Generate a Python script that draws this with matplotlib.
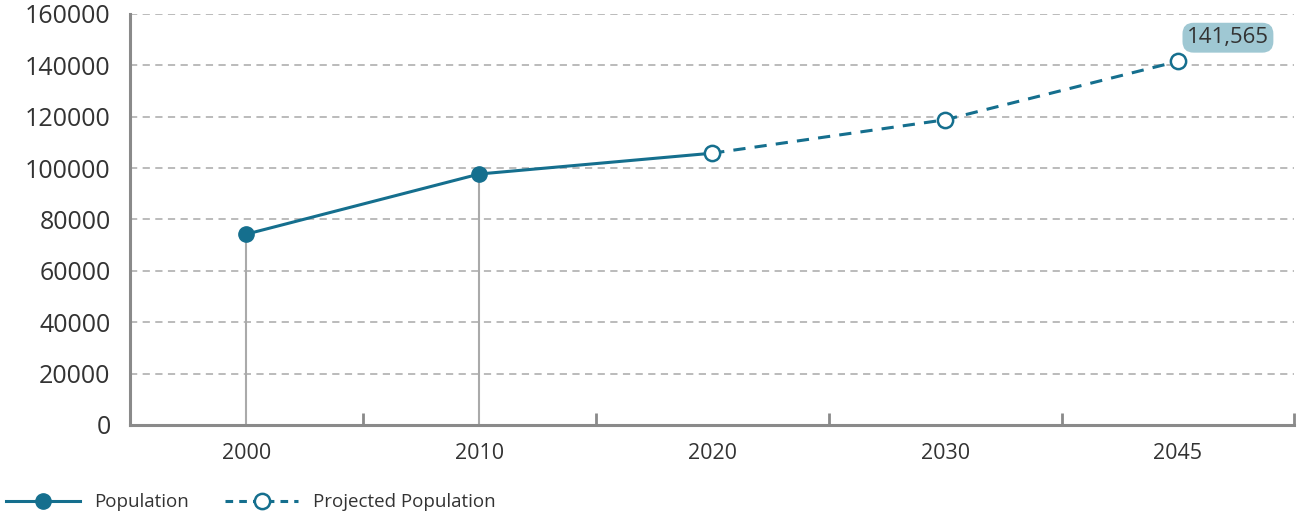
import matplotlib.pyplot as plt
import numpy as np
from matplotlib.lines import Line2D

plt.rcParams['font.family'] = ['Open Sans', 'DejaVu Sans']

# data
years = ['2000', '2010', '2020', '2030', '2045']
population = [74300, 97700, 105800]        # actual line (ends at 2020 estimate)
projected = [105800, 118800, 141565]       # projected line 2020-2045
label_value = 141565

line_col = '#156f8e'
grid_col = '#b5b5b5'
axis_col = '#8a8a8a'
text_col = '#333333'

fig = plt.figure(figsize=(12.98, 5.17), dpi=100)
ax = fig.add_axes([0.1002, 0.178, 0.897, 0.795])

x = np.arange(len(years))
xa = x[:len(population)]
xp = x[len(population) - 1:]

# drop lines for measured points
ax.vlines(xa[:2], 0, population[:2], color='#aaaaaa', lw=1.5, zorder=2)

ax.plot(xa, population, color=line_col, lw=2.2, zorder=3)
ax.plot(xp, projected, color=line_col, lw=2.2, ls=(0, (4, 3)), zorder=3)
ax.plot(xa[:2], population[:2], 'o', color=line_col, ms=11, zorder=4)
ax.plot(xp, projected, 'o', mfc='white', mec=line_col, mew=1.8, ms=11, zorder=4)

ax.annotate(f'{label_value:,}', (xp[-1], projected[-1]), xytext=(36, 17),
            textcoords='offset points', ha='center', va='center',
            fontsize=16, color=text_col,
            bbox=dict(boxstyle='round,pad=0.2,rounding_size=0.5',
                      fc='#9fc8d3', ec='none'), zorder=5)

ax.set_xlim(-0.5, len(years) - 0.5)
ax.set_ylim(0, 160000)
ax.set_yticks(np.arange(0, 160001, 20000))
ax.set_xticks(x)
ax.set_xticklabels(years)
ax.set_xticks(np.arange(-0.5, len(years)), minor=True)
ax.tick_params(axis='x', which='major', length=0, pad=13, labelsize=15.5, labelcolor=text_col)
ax.tick_params(axis='x', which='minor', direction='in', length=9, width=2, color=axis_col)
ax.tick_params(axis='y', length=0, pad=14, labelsize=18, labelcolor=text_col)

ax.yaxis.grid(True, color=grid_col, ls=(0, (4, 3)), lw=1.3)
ax.set_axisbelow(True)
for s in ['top', 'right']:
    ax.spines[s].set_visible(False)
for s in ['left', 'bottom']:
    ax.spines[s].set_color(axis_col)
    ax.spines[s].set_linewidth(2.2)

handles = [
    Line2D([], [], color=line_col, lw=2.2, marker='o', ms=11),
    Line2D([], [], color=line_col, lw=2.2, ls=(0, (2.5, 2)), marker='o',
           mfc='white', mec=line_col, mew=1.8, ms=11),
]
fig.legend(handles, ['Population', 'Projected Population'], loc='lower left',
           bbox_to_anchor=(-0.008, -0.022), ncol=2, frameon=False, fontsize=13.5,
           handlelength=3.9, handletextpad=0.8, columnspacing=1.9, labelcolor=text_col)

fig.savefig('out.png', dpi=100)
